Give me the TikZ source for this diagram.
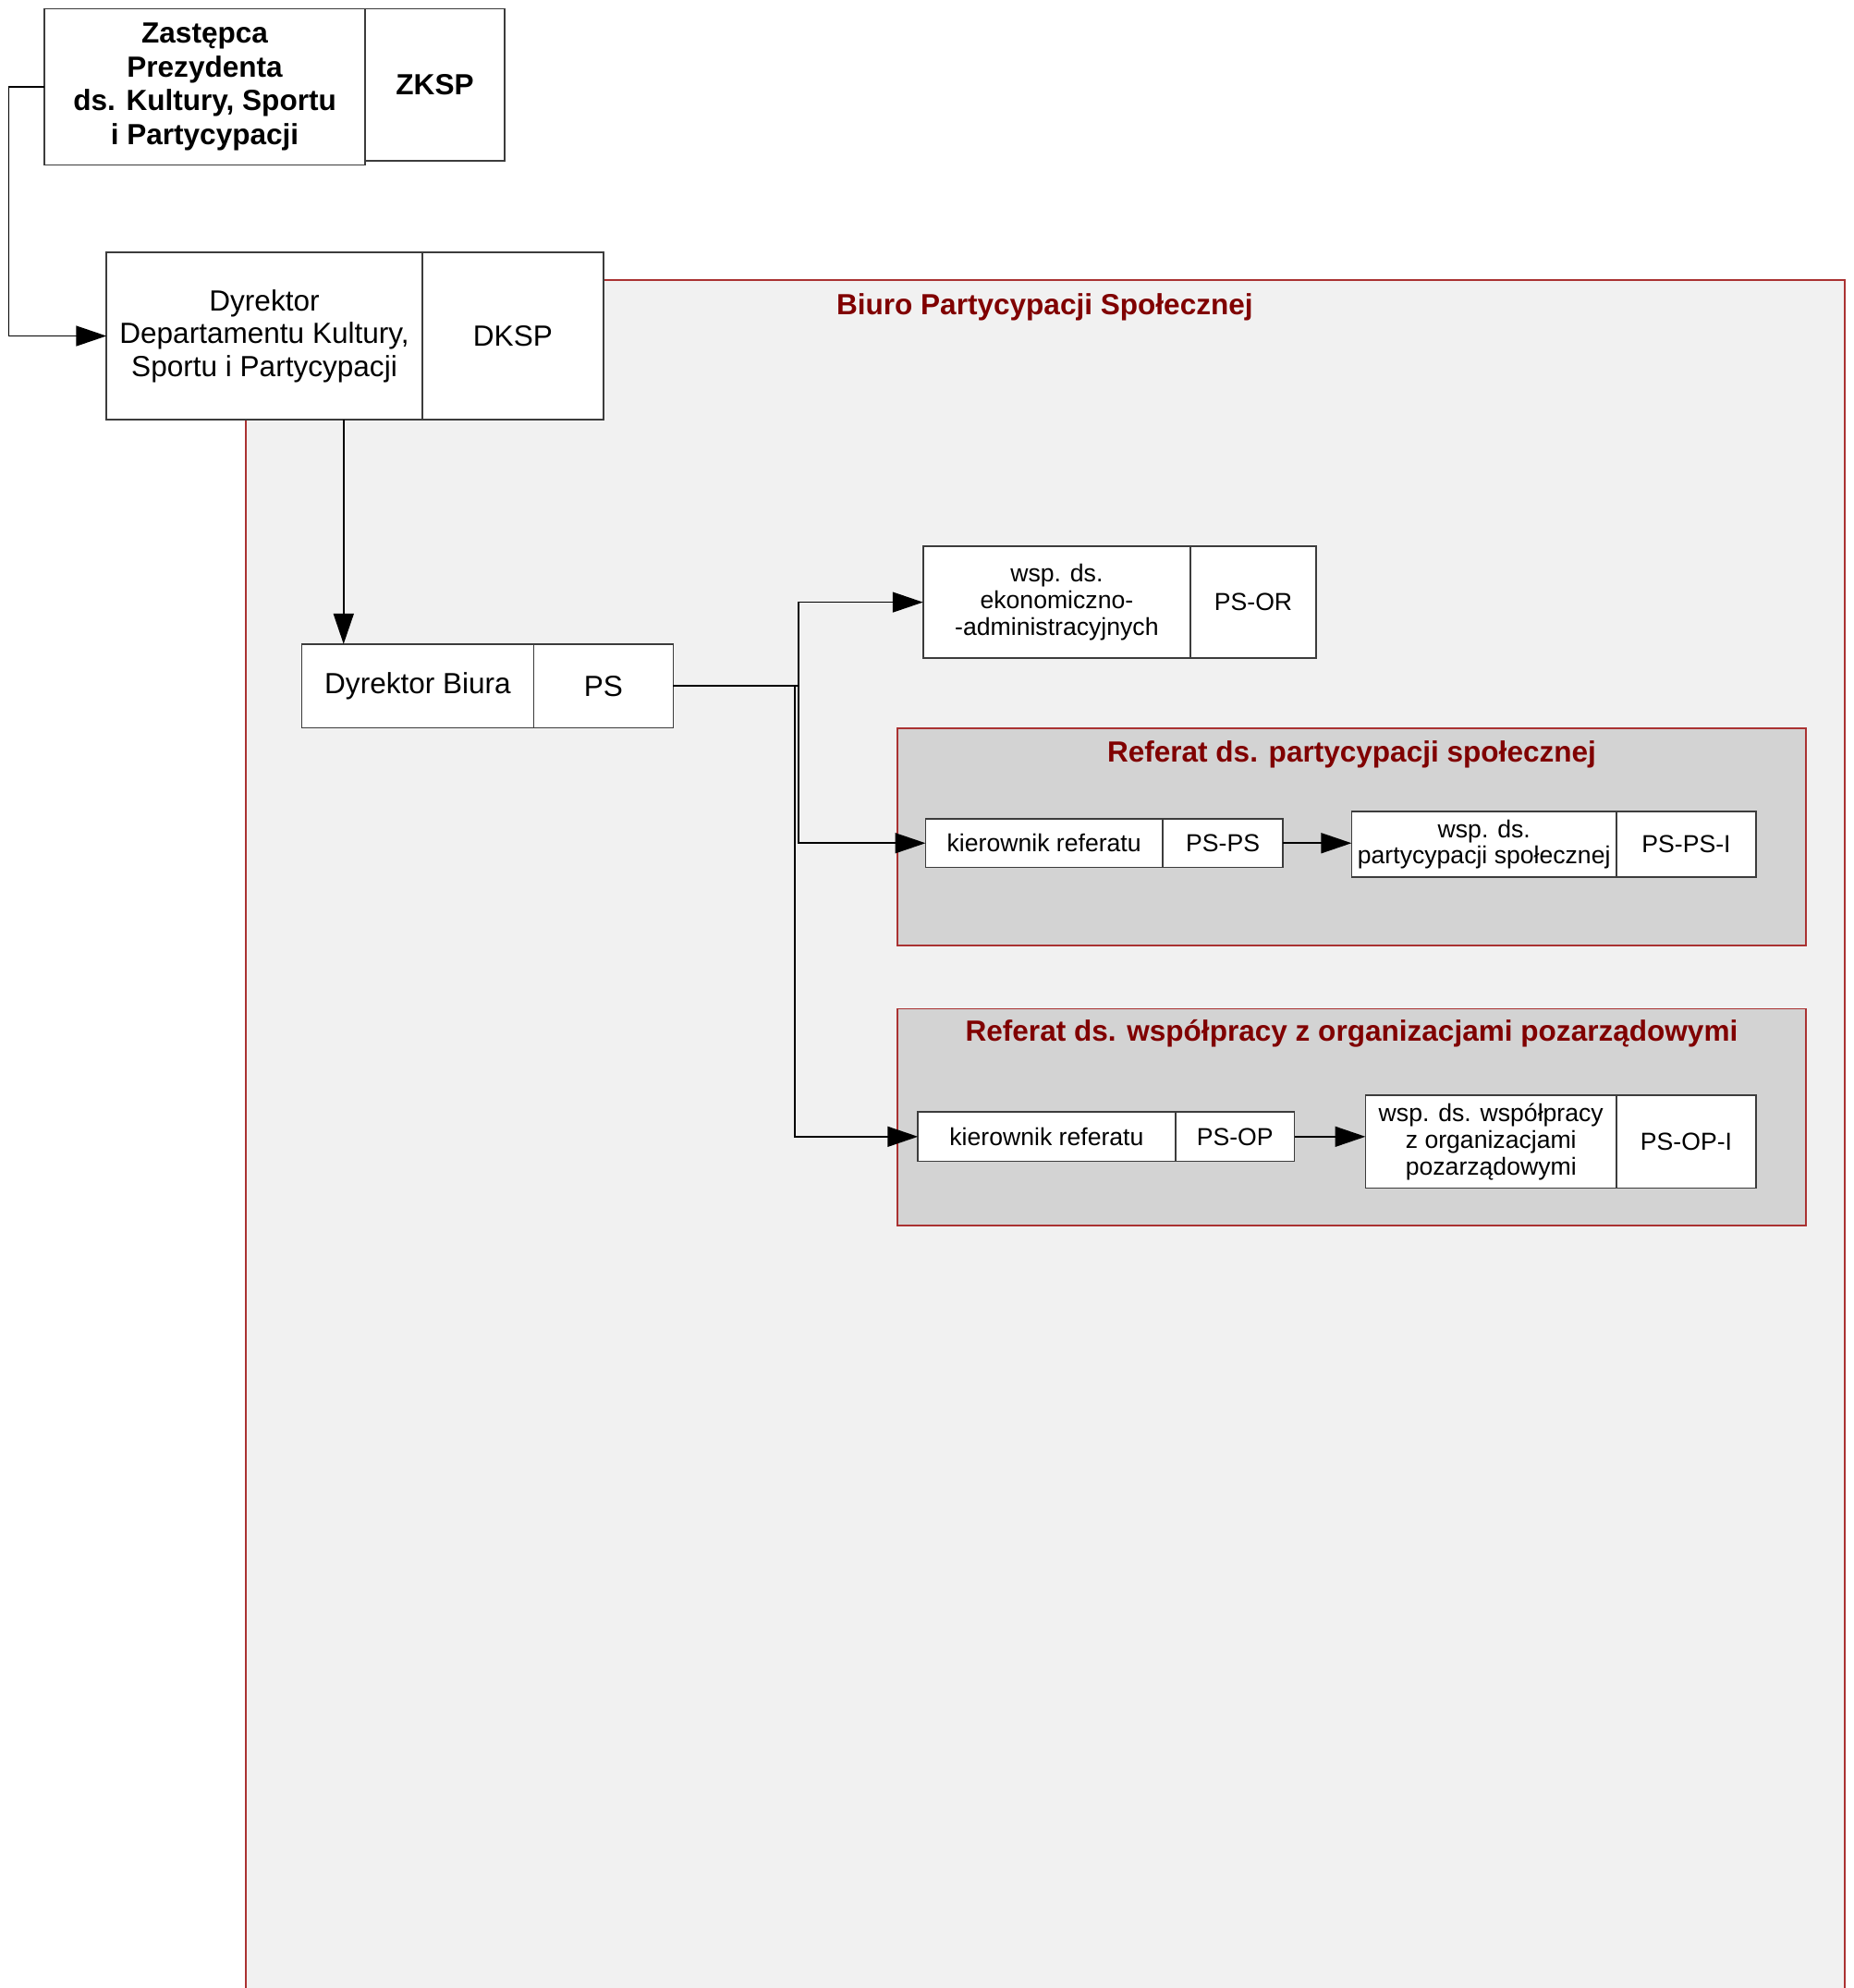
\documentclass[tikz,border=0pt]{standalone}
\usepackage{fontspec}
\setmainfont{Liberation Sans}
\usetikzlibrary{positioning,calc,arrows.meta}
\definecolor{biurofill}{RGB}{241,241,241}
\definecolor{referatfill}{RGB}{211,211,211}
\definecolor{ramka}{RGB}{170,50,50}
\definecolor{tytul}{RGB}{128,0,0}
\definecolor{linia}{RGB}{60,60,60}

\begin{document}
\begin{tikzpicture}[x=0.5pt,y=-0.5pt,>={Triangle[length=12pt,width=8pt]},line width=0.6pt,
  box/.style={draw=linia,fill=white,align=center,inner sep=1pt,outer sep=0pt,font=\fontsize{9.7pt}{10.5pt}\selectfont},
  bigbox/.style={box,font=\fontsize{11.5pt}{13pt}\selectfont},
  topbox/.style={box,font=\fontsize{11.5pt}{13.3pt}\selectfont\bfseries},
  referat/.style={draw=ramka,fill=referatfill,minimum width=358.5pt,minimum height=85.5pt,anchor=north west,inner sep=0pt},
  tytulbox/.style={text=tytul,font=\fontsize{11.5pt}{13pt}\selectfont\bfseries,inner sep=0pt}]
\useasboundingbox (0,0) rectangle (1462,1568);
\fill[biurofill] (194,221) rectangle (1455,1568);
\draw[ramka] (194,1568) |- (1455,221) -- (1455,1568);
\node[tytulbox] (biurot) at (824,242) {Biuro Partycypacji Społecznej};

\node[topbox,minimum width=126.5pt,minimum height=61.5pt,anchor=north west] (zastepca) at (35,7) {Zastępca\\Prezydenta\\ds. Kultury, Sportu\\i Partycypacji};
\node[topbox,minimum width=55pt,minimum height=60pt,anchor=north west] (zksp) at (zastepca.north east) {ZKSP};
\node[bigbox,minimum width=124.5pt,minimum height=66pt,anchor=north west] (dyrdep) at (84,199) {Dyrektor\\Departamentu Kultury,\\Sportu i Partycypacji};
\node[bigbox,minimum width=71.5pt,minimum height=66pt,right=0pt of dyrdep] (dksp) {DKSP};

\node[referat] (refps) at (707,574) {};
\node[tytulbox] (refpst) at ($(refps.north)+(0,21)$) {Referat ds. partycypacji społecznej};
\node[referat] (refop) at (707,795) {};
\node[tytulbox] (refopt) at ($(refop.north)+(0,20)$) {Referat ds. współpracy z organizacjami pozarządowymi};

\node[bigbox,minimum width=91.5pt,minimum height=33pt,anchor=north west] (dyrbiura) at (238,508) {Dyrektor Biura};
\node[bigbox,minimum width=55pt,minimum height=33pt,right=0pt of dyrbiura] (ps) {PS};

\node[box,minimum width=105.5pt,minimum height=44pt,anchor=north west] (wspor) at (728,431) {wsp. ds.\\ekonomiczno-\\-administracyjnych};
\node[box,minimum width=49.5pt,minimum height=44pt,right=0pt of wspor] (psor) {PS-OR};

\node[box,minimum width=93.5pt,minimum height=19pt,anchor=north west] (kierps) at (730,646) {kierownik referatu};
\node[box,minimum width=47.5pt,minimum height=19pt,right=0pt of kierps] (psps) {PS-PS};
\node[box,minimum width=104.5pt,minimum height=26pt,anchor=north west] (wspps) at (1066,640) {wsp. ds.\\partycypacji społecznej};
\node[box,minimum width=55pt,minimum height=26pt,right=0pt of wspps] (pspsi) {PS-PS-I};

\node[box,minimum width=101.5pt,minimum height=19.5pt,anchor=north west] (kierop) at (724,877) {kierownik referatu};
\node[box,minimum width=47pt,minimum height=19.5pt,right=0pt of kierop] (psop) {PS-OP};
\node[box,minimum width=99pt,minimum height=36.5pt,anchor=north west] (wspop) at (1077,864) {wsp. ds. współpracy\\z organizacjami\\pozarządowymi};
\node[box,minimum width=55pt,minimum height=36.5pt,right=0pt of wspop] (psopi) {PS-OP-I};

\coordinate (lewo) at (7,0);
\coordinate (pion) at (271,0);
\coordinate (szynaA) at (630,0);
\coordinate (szynaB) at (627,0);
\draw[->] (zastepca.west) -- (zastepca.west -| lewo) |- (dyrdep.west);
\draw[->] (dyrdep.south -| pion) -- (dyrbiura.north -| pion);
\draw[->] (ps.east) -- (ps.east -| szynaA) |- (wspor.west);
\draw[->] (ps.east) -- (ps.east -| szynaA) |- (kierps.west);
\draw[->] (ps.east) -- (ps.east -| szynaB) |- (kierop.west);
\draw[->] (psps.east) -- (psps.east -| wspps.west);
\draw[->] (psop.east) -- (psop.east -| wspop.west);
\end{tikzpicture}
\end{document}
